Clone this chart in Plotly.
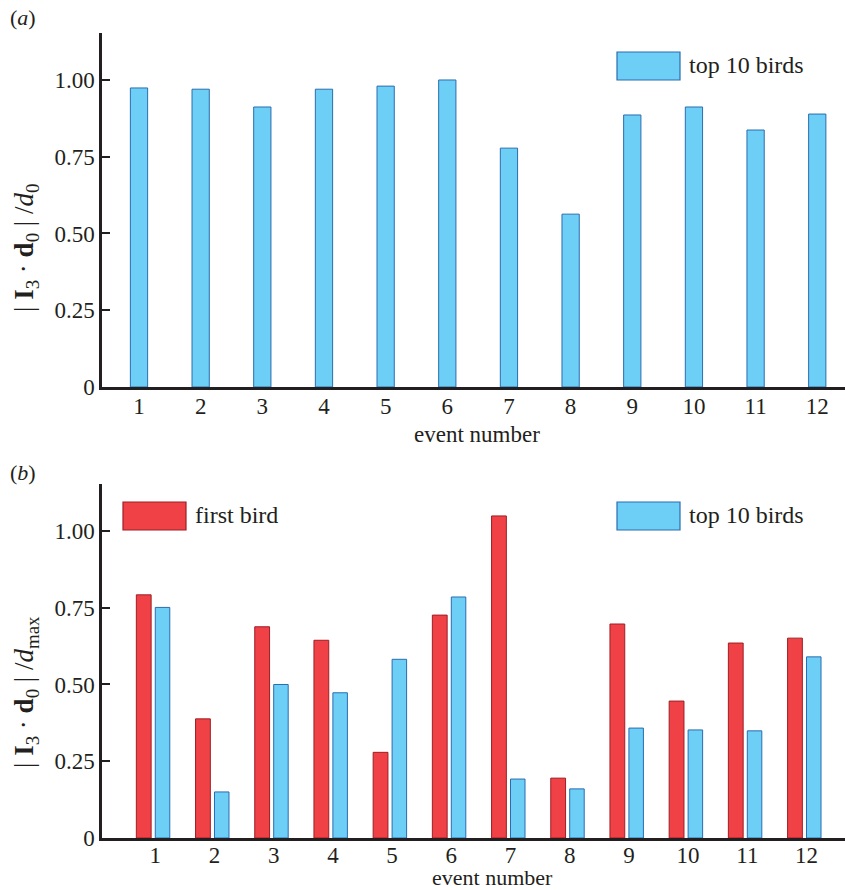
import plotly.graph_objects as go

events = list(range(1, 13))
tick_labels = [str(e) for e in events]
top10_a = [0.974, 0.970, 0.912, 0.970, 0.980, 1.000, 0.778, 0.563, 0.886, 0.912, 0.837, 0.889]
first_b = [0.792, 0.388, 0.688, 0.644, 0.279, 0.726, 1.049, 0.195, 0.697, 0.446, 0.635, 0.651]
top10_b = [0.751, 0.150, 0.500, 0.473, 0.582, 0.785, 0.192, 0.160, 0.358, 0.352, 0.349, 0.590]
y_ticks = [0, 0.25, 0.5, 0.75, 1.0]
y_ticktext = ["0", "0.25", "0.50", "0.75", "1.00"]

BLUE, BLUE_LINE = "#6DCFF6", "#2B6CB0"
RED, RED_LINE = "#EF4146", "#9E1F24"
INK = "#231F20"
FONT = "Liberation Serif"
W, H = 845, 890

fig = go.Figure()
fig.add_trace(go.Bar(x=events, y=top10_a, width=0.28, marker=dict(color=BLUE, line=dict(color=BLUE_LINE, width=1)),
                     xaxis="x", yaxis="y", showlegend=False))
fig.add_trace(go.Bar(x=events, y=first_b, width=0.25, offset=-0.32, marker=dict(color=RED, line=dict(color=RED_LINE, width=1)),
                     xaxis="x2", yaxis="y2", showlegend=False))
fig.add_trace(go.Bar(x=events, y=top10_b, width=0.245, offset=0.0, marker=dict(color=BLUE, line=dict(color=BLUE_LINE, width=1)),
                     xaxis="x2", yaxis="y2", showlegend=False))

xdom = [102 / W, 1.0]
ydom_a = [1 - 387 / H, 1 - 33 / H]
ydom_b = [1 - 838 / H, 1 - 484 / H]
xr_a = [0.40, 12.45]
xr_b = [0.10, 12.65]

tickfont = dict(family=FONT, size=23, color=INK)

def xax(dom_anchor, rng, standoff):
    return dict(domain=xdom, range=rng, anchor=dom_anchor, tickvals=events, ticktext=tick_labels,
                ticks="", showline=True, linecolor=INK, linewidth=2.5, showgrid=False, zeroline=False,
                tickfont=tickfont, automargin=False, ticklabelstandoff=standoff)

def xtop(dom_anchor, overl, rng):
    return dict(domain=xdom, range=rng, anchor=dom_anchor, overlaying=overl, side="top", tickvals=events,
                ticks="inside", ticklen=7, tickwidth=2, tickcolor=INK, showticklabels=False,
                showline=True, linecolor=INK, linewidth=2.5, showgrid=False, zeroline=False, automargin=False)

def yax(dom, anchor):
    return dict(domain=dom, range=[0, 1.153], anchor=anchor, tickvals=y_ticks, ticktext=y_ticktext,
                ticks="inside", ticklen=8, tickwidth=2, tickcolor=INK, showline=True, linecolor=INK, linewidth=2.5,
                showgrid=False, zeroline=False, tickfont=tickfont, automargin=False)

fig.update_layout(
    width=W, height=H, margin=dict(l=0, r=0, t=0, b=0, pad=0),
    paper_bgcolor="white", plot_bgcolor="white", barmode="overlay",
    xaxis=xax("y", xr_a, -3),
    xaxis3=xtop("y", "x", xr_a),
    yaxis=yax(ydom_a, "x"),
    xaxis2=xax("y2", xr_b, -5),
    xaxis4=xtop("y2", "x2", xr_b),
    yaxis2=yax(ydom_b, "x2"),
)

def txt(xpx, ypx, text, size, angle=0, xanchor="center", yanchor="middle"):
    fig.add_annotation(xref="paper", yref="paper", x=xpx / W, y=1 - ypx / H, text=text, showarrow=False,
                       xanchor=xanchor, yanchor=yanchor, textangle=angle,
                       font=dict(family=FONT, size=size, color=INK))

def legend_item(xpx, ypx, fill, line, text):
    fig.add_shape(type="rect", xref="paper", yref="paper", x0=xpx / W, x1=(xpx + 63) / W,
                  y0=1 - (ypx + 28) / H, y1=1 - ypx / H,
                  fillcolor=fill, line=dict(color=line, width=1.2))
    txt(xpx + 70, ypx + 13, text, 24, xanchor="left")

legend_item(617, 52, BLUE, BLUE_LINE, "top 10 birds")
legend_item(123, 502, RED, RED_LINE, "first bird")
legend_item(617, 502, BLUE, BLUE_LINE, "top 10 birds")

txt(477, 434, "event number", 23)
txt(492, 892, "event number", 22, yanchor="bottom")
txt(26, 248, "| <b>I</b><sub>3</sub> · <b>d</b><sub>0</sub> | /<i>d</i><sub>0</sub>", 27, angle=-90)
txt(26, 692, "| <b>I</b><sub>3</sub> · <b>d</b><sub>0</sub> | /<i>d</i><sub>max</sub>", 27, angle=-90)
txt(8, 18, "(<i>a</i>)", 22, xanchor="left")
txt(8, 472, "(<i>b</i>)", 22, xanchor="left")

fig.write_html("out.html")
